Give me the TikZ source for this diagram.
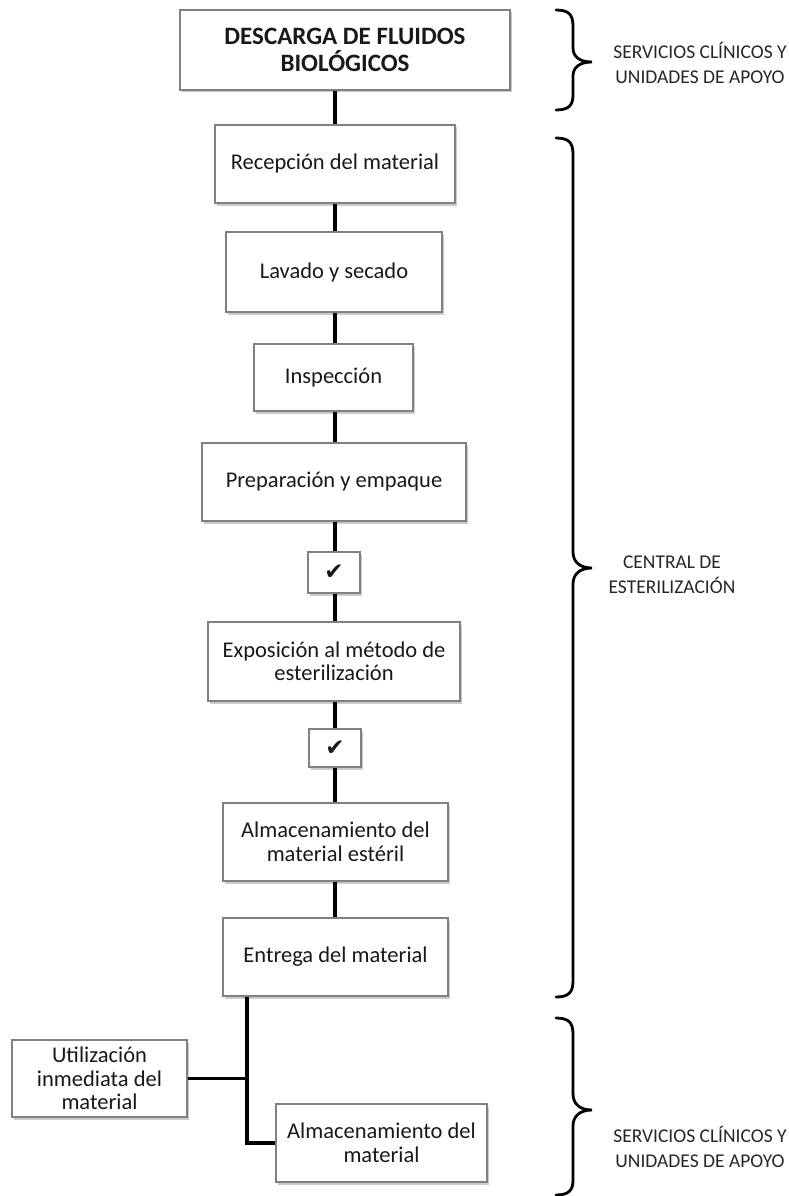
\documentclass[tikz,border=0pt]{standalone}
\usepackage{fontspec}
\setmainfont{Carlito}
\newfontfamily\symfont{DejaVu Sans}
\usetikzlibrary{shadows}
\tikzset{
  flowbox/.style={draw=black!50, line width=1.1pt, fill=white, align=center,
    inner sep=0pt, font=\fontsize{22.5}{23.5}\selectfont, text=black!90,
    drop shadow={shadow xshift=1.5pt, shadow yshift=-2.5pt, fill=black!45, opacity=0.45}},
  titlebox/.style={flowbox, font=\fontsize{25}{27}\selectfont\bfseries},
  checkbox/.style={flowbox, font=\fontsize{23}{24}\selectfont\symfont},
  link/.style={line width=3.6pt, black},
  bracepath/.style={line width=2.8pt, black, line cap=round},
  sidelabel/.style={align=center, font=\fontsize{19.5}{25}\selectfont, text=black!85, inner sep=0pt}
}
\begin{document}
\begin{tikzpicture}[x=1pt, y=-1pt]
\useasboundingbox (0,0) rectangle (789,1196);
\coordinate (spine) at (335,0);
\coordinate (br) at (247,0);

\node[titlebox, minimum width=330, minimum height=80] (n1) at (345,50) {DESCARGA DE FLUIDOS\\BIOLÓGICOS};
\node[flowbox, minimum width=240, minimum height=78] (n2) at (335,164) {Recepción del material};
\node[flowbox, minimum width=216, minimum height=80] (n3) at (334,272) {Lavado y secado};
\node[flowbox, minimum width=159, minimum height=67] (n4) at (333.5,377.5) {Inspección};
\node[flowbox, minimum width=264, minimum height=78] (n5) at (334,482) {Preparación y empaque};
\node[checkbox, minimum width=52, minimum height=41] (c1) at (334,572.5) {✔};
\node[flowbox, minimum width=252, minimum height=79] (n6) at (334,661.5) {Exposición al método de\\esterilización};
\node[checkbox, minimum width=52, minimum height=38] (c2) at (335,748) {✔};
\node[flowbox, minimum width=225, minimum height=78] (n7) at (335.5,842) {Almacenamiento del\\material estéril};
\node[flowbox, minimum width=225, minimum height=78] (n8) at (335.5,957) {Entrega del material};
\node[flowbox, minimum width=175, minimum height=77] (n9) at (99.5,1078.5) {Utilización\\inmediata del\\material};
\node[flowbox, minimum width=211, minimum height=78] (n10) at (381.5,1143) {Almacenamiento del\\material};

\draw[link] (n1.south -| spine) -- (n2.north -| spine);
\draw[link] (n2.south -| spine) -- (n3.north -| spine);
\draw[link] (n3.south -| spine) -- (n4.north -| spine);
\draw[link] (n4.south -| spine) -- (n5.north -| spine);
\draw[link] (n5.south -| spine) -- (c1.north -| spine);
\draw[link] (c1.south -| spine) -- (n6.north -| spine);
\draw[link] (n6.south -| spine) -- (c2.north -| spine);
\draw[link] (c2.south -| spine) -- (n7.north -| spine);
\draw[link] (n7.south -| spine) -- (n8.north -| spine);
\draw[link] (n8.south -| br) -- (n10.west -| br) -- (n10.west);
\draw[link] (n9.east) -- (n9.east -| br);

% braces
\draw[bracepath] (556,10) .. controls (569,10) and (573,15) .. (573,26) -- (573,48)
  .. controls (573,57) and (580,62) .. (592,62)
  .. controls (580,62) and (573,67) .. (573,76) -- (573,95)
  .. controls (573,105) and (569,110) .. (556,110);
\draw[bracepath] (556,138) .. controls (569,138) and (573,143) .. (573,154) -- (573,552)
  .. controls (573,562) and (580,568) .. (592,568)
  .. controls (580,568) and (573,574) .. (573,584) -- (573,981)
  .. controls (573,992) and (569,997) .. (556,997);
\draw[bracepath] (556,1018) .. controls (569,1018) and (573,1023) .. (573,1034) -- (573,1094)
  .. controls (573,1104) and (580,1110) .. (592,1110)
  .. controls (580,1110) and (573,1116) .. (573,1126) -- (573,1180)
  .. controls (573,1190) and (569,1195) .. (556,1195);

\node[sidelabel] (s1) at (700,63) {SERVICIOS CLÍNICOS Y\\UNIDADES DE APOYO};
\node[sidelabel] (s2) at (672,575) {CENTRAL DE\\ESTERILIZACIÓN};
\node[sidelabel] (s3) at (700,1147) {SERVICIOS CLÍNICOS Y\\UNIDADES DE APOYO};
\end{tikzpicture}
\end{document}
